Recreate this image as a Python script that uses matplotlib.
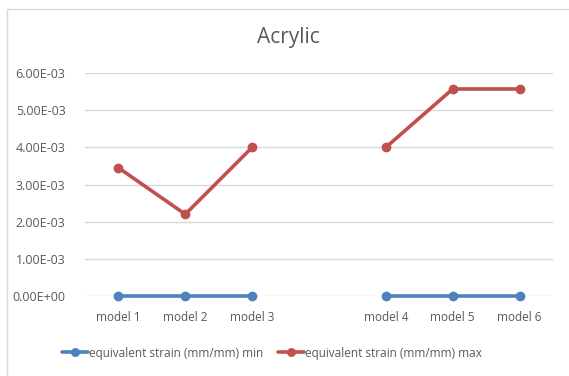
import matplotlib
matplotlib.use("Agg")
import matplotlib.pyplot as plt
import numpy as np
from matplotlib.patches import Rectangle

categories = ["model 1", "model 2", "model 3", "", "model 4", "model 5", "model 6"]
strain_min = [0.0, 0.0, 0.0, np.nan, 0.0, 0.0, 0.0]
strain_max = [3.45e-3, 2.2e-3, 4.0e-3, np.nan, 4.0e-3, 5.57e-3, 5.57e-3]
yticks = [0.0, 1e-3, 2e-3, 3e-3, 4e-3, 5e-3, 6e-3]
ytick_labels = ["0.00E+00", "1.00E-03", "2.00E-03", "3.00E-03", "4.00E-03", "5.00E-03", "6.00E-03"]

plt.rcParams["font.family"] = ["Open Sans", "DejaVu Sans"]
text_gray = "#595959"

fig = plt.figure(figsize=(5.69, 3.76), dpi=100)
W, H = 569, 376

# chart frame
fig.patches.append(Rectangle((7 / W, -0.1), 1.2, 1 - 9 / H + 0.1, transform=fig.transFigure,
                             fill=False, edgecolor="#d9d9d9", linewidth=1.0))

ax = fig.add_axes([85 / W, 1 - 296 / H, 468 / W, (296 - 73) / H])
x = np.arange(len(categories))
ax.plot(x, strain_min, color="#4F81BD", linewidth=2.6, marker="o", markersize=6,
        label="equivalent strain (mm/mm) min", solid_capstyle="round")
ax.plot(x, strain_max, color="#C0504D", linewidth=2.6, marker="o", markersize=6,
        label="equivalent strain (mm/mm) max", solid_capstyle="round")

ax.set_xlim(-0.5, len(categories) - 0.5)
ax.set_ylim(0, 6e-3)
ax.set_xticks(x)
ax.set_xticklabels(categories, fontsize=8.5, color=text_gray)
ax.set_yticks(yticks)
ax.set_yticklabels(ytick_labels, fontsize=9, color=text_gray)
ax.tick_params(length=0)
ax.tick_params(axis="x", pad=11)
ax.tick_params(axis="y", pad=14)
for s in ax.spines.values():
    s.set_visible(False)
ax.grid(axis="y", color="#d9d9d9", linewidth=1.0)
ax.set_axisbelow(True)
for line in ax.lines:
    line.set_clip_on(False)

fig.text(288 / W, 1 - 38 / H, "Acrylic", ha="center", va="center", fontsize=15, color=text_gray)

fig.legend(loc="center", bbox_to_anchor=(272 / W, 1 - 353 / H), ncol=2, frameon=False,
           fontsize=8.5, labelcolor=text_gray, handlelength=2.2, handletextpad=0.1,
           columnspacing=1.2, markerscale=0.9)

fig.savefig("out.png", dpi=100, facecolor="white")
